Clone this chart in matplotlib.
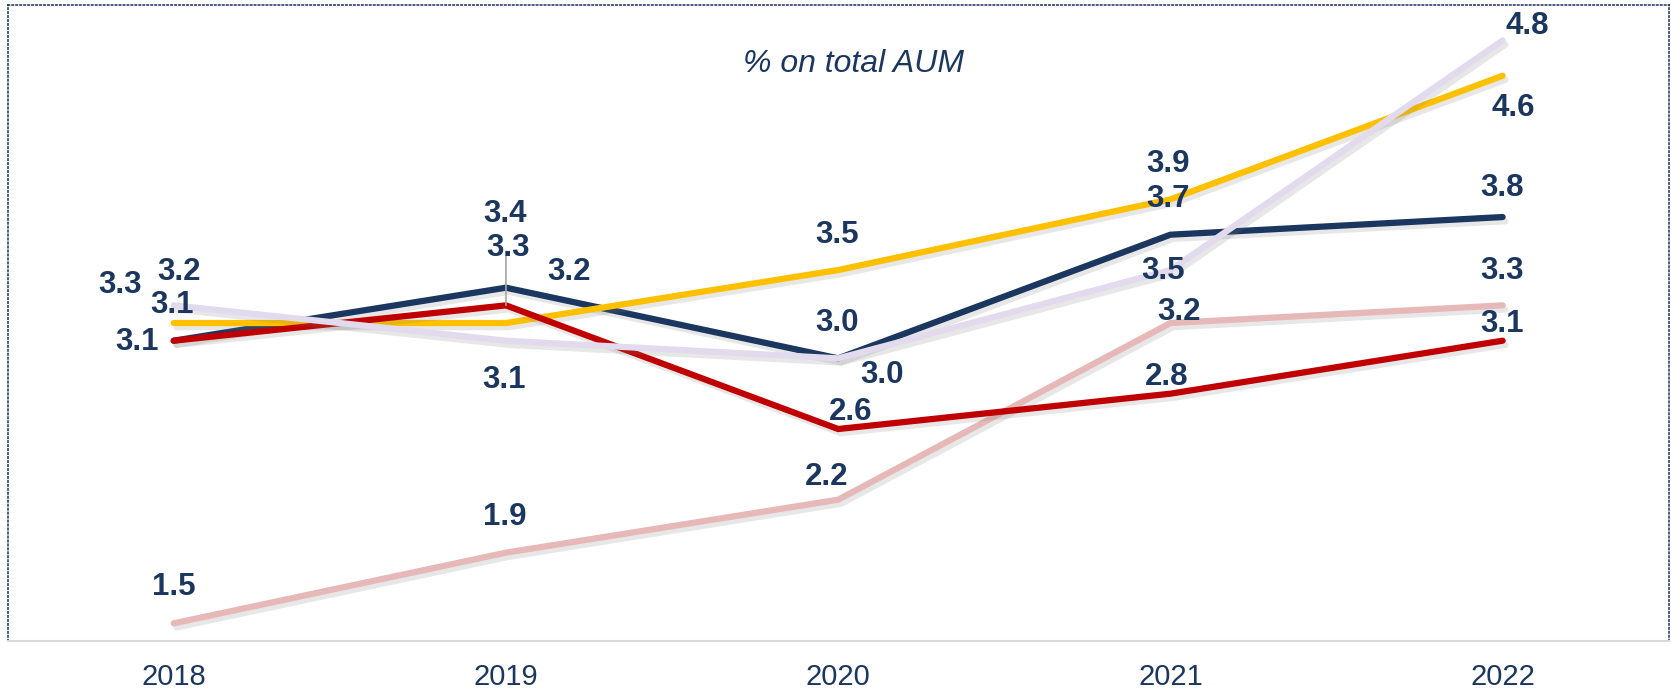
import matplotlib
matplotlib.use("Agg")
import matplotlib.pyplot as plt
import matplotlib.patheffects as pe

plt.rcParams['font.family'] = ['Liberation Sans', 'DejaVu Sans']

# дані
years = ["2018", "2019", "2020", "2021", "2022"]
navy_vals = [3.1, 3.4, 3.0, 3.7, 3.8]
red_vals = [3.1, 3.3, 2.6, 2.8, 3.1]
yellow_vals = [3.2, 3.2, 3.5, 3.9, 4.6]
lavender_vals = [3.3, 3.1, 3.0, 3.5, 4.8]
pink_vals = [1.5, 1.9, 2.2, 3.2, 3.3]

NAVY = "#1B365F"
TEXT = "#1B365F"

# серії: значення, колір, z-порядок, зсуви підписів (пікселі)
series = [
    (pink_vals, "#E6B9B8", 2, [(0, 36), (-1, 36), (-12, 23), (9, 11), (-1, 34)]),
    (navy_vals, NAVY, 3, [(-37, -1), (-1, 74), (-1, 35), (-2, 36), (-1, 29)]),
    (yellow_vals, "#FFC000", 4, [(5, 51), (63, 51), (-1, 35), (-2, 35), (11, -32)]),
    (red_vals, "#C00000", 5, [(-2, 36), (2, 57), (12, 17), (-4, 17), (-1, 17)]),
    (lavender_vals, "#E2DBEE", 6, [(-54, 20), (-2, -39), (44, -17), (-7, -1), (25, 14)]),
]

fig = plt.figure(figsize=(16.71, 6.92), dpi=100)
ax = fig.add_axes([0.00455, 0.0737, 0.9941, 0.919])

x = list(range(len(years)))
shadow = [pe.SimpleLineShadow(offset=(2, -3), shadow_color="#7F7F7F", alpha=0.18), pe.Normal()]

for vals, color, z, offsets in series:
    ax.plot(x, vals, color=color, lw=4.5, zorder=z, solid_capstyle="round",
            solid_joinstyle="miter", path_effects=shadow)
    for xi, v, (dx, dy) in zip(x, vals, offsets):
        ax.annotate(f"{v:.1f}", (xi, v), xytext=(dx, dy), textcoords="offset pixels",
                    ha="center", va="center", fontsize=22.5, fontweight="bold",
                    color=TEXT, zorder=10)

# лінія-виноска для 2019
ax.annotate("", xy=(1, red_vals[1]), xytext=(0, 54), textcoords="offset pixels",
            arrowprops=dict(arrowstyle="-", color="#A6A6A6", lw=1.2,
                            shrinkA=0, shrinkB=0), zorder=7)

ax.set_xlim(-0.5, 4.5)
ax.set_ylim(1.4, 5.0)
ax.set_xticks(x)
ax.set_xticklabels(years, fontsize=21, color=TEXT)
ax.set_yticks([])
ax.tick_params(axis="x", length=0, pad=16)

for side in ["top", "left", "right"]:
    ax.spines[side].set_color(NAVY)
    ax.spines[side].set_linestyle((0, (1, 1.6)))
    ax.spines[side].set_linewidth(1.1)
ax.spines["bottom"].set_color("#D9D9D9")
ax.spines["bottom"].set_linewidth(1.5)

fig.text(0.511, 0.908, "% on total AUM", ha="center", va="center",
         fontsize=23, style="italic", color=TEXT)

fig.savefig("out.png", dpi=100)
